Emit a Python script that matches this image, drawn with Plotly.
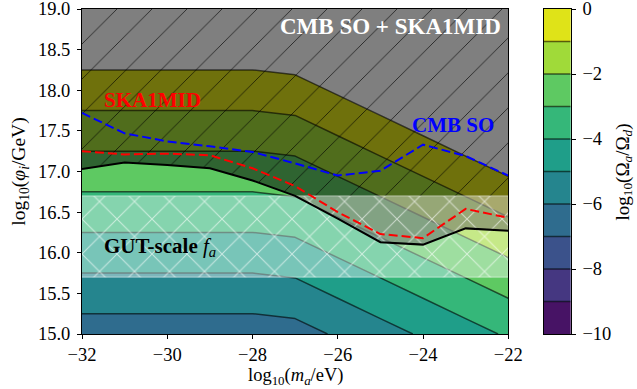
import plotly.graph_objects as go

# ---- data ---------------------------------------------------------------
# axion mass grid, log10(m_a / eV)
log_ma = [-32, -31, -30, -29, -28, -27, -26, -25, -24, -23, -22]
# initial field value, log10(phi_i / GeV), bottom and top of the range
log_phi = [15.0, 19.0]
# log10(Omega_a / Omega_d) along phi_i = 1e15 GeV and phi_i = 1e19 GeV
omega_bottom = [-6.5, -6.5, -6.5, -6.5, -6.5, -6.38, -5.88, -5.38, -4.88, -4.38, -3.88]
omega_top = [1.5, 1.5, 1.5, 1.5, 1.5, 1.62, 2.12, 2.62, 3.12, 3.62, 4.12]

# forecast bounds on log10(phi_i / GeV)
bound_combined = [17.03, 17.11, 17.08, 17.04, 16.89, 16.70, 16.42, 16.13, 16.10, 16.30, 16.27]
bound_ska = [17.25, 17.21, 17.22, 17.20, 17.04, 16.82, 16.50, 16.23, 16.18, 16.54, 16.43]
bound_cmb = [17.72, 17.47, 17.37, 17.31, 17.24, 17.10, 16.95, 17.01, 17.33, 17.19, 16.95]

# GUT-scale decay constant band
gut_band = [15.7, 16.7]

# contour levels and filled-band colours (viridis at band centres)
levels = list(range(-10, 1))
band_colors = ["#471365", "#453781", "#3b528b", "#2f6c8e", "#25858e",
               "#1f9e89", "#35b779", "#5ec962", "#a0da39", "#dfe318"]

x_ticks = [-32, -30, -28, -26, -24, -22]
y_ticks = [15.0, 15.5, 16.0, 16.5, 17.0, 17.5, 18.0, 18.5, 19.0]
cbar_ticks = [-10, -8, -6, -4, -2, 0]

# ---- styling --------------------------------------------------------------
FONT = "Liberation Serif"
W, H = 637, 389
ML, MR, MT, MB = 82, 0, 9, 55
PW, PH = W - ML - MR, H - MT - MB


def px(xp):
    return (xp - ML) / PW


def py(yp):
    return (H - MB - yp) / PH


n_lev = len(levels)
# contour fill: band between L and L+1 takes colour at (L + 0.5);
# positions span [start - 0.5, end + 0.5]; area above the top level stays white
fill_scale = [[0.0, band_colors[0]]]
for k, c in enumerate(band_colors):
    fill_scale.append([(k + 1) / n_lev, c])
fill_scale.append([1.0, "#ffffff"])

z = [omega_bottom, omega_top]
contour_def = dict(start=levels[0], end=levels[-1], size=1)
LINE_C = "rgba(0,0,0,0.6)"

fig = go.Figure()

fig.add_trace(go.Contour(
    x=log_ma, y=log_phi, z=z,
    autocontour=False,
    contours=dict(**contour_def, coloring="fill", showlines=False),
    colorscale=fill_scale, showscale=False,
    line=dict(width=0, smoothing=0),
    hoverinfo="skip",
))

# combined CMB SO + SKA1MID excluded region
top = log_phi[1]
fig.add_trace(go.Scatter(
    x=log_ma + [log_ma[-1], log_ma[0]],
    y=bound_combined + [top, top],
    fill="toself", mode="lines", line=dict(width=0),
    fillcolor="rgba(0,0,0,0.5)", hoverinfo="skip", showlegend=False,
))
hatch_floor = [max(b, gut_band[1]) for b in bound_combined]
fig.add_trace(go.Scatter(
    x=log_ma + [log_ma[-1], log_ma[0]],
    y=hatch_floor + [top, top],
    fill="toself", mode="lines", line=dict(width=0),
    fillcolor="rgba(0,0,0,0)",
    fillpattern=dict(shape="/", fgcolor="black", fgopacity=0.75,
                     size=24.75, solidity=0.035),
    hoverinfo="skip", showlegend=False,
))

# GUT-scale band
band_x = [log_ma[0], log_ma[-1], log_ma[-1], log_ma[0]]
band_y = [gut_band[0], gut_band[0], gut_band[1], gut_band[1]]
fig.add_trace(go.Scatter(
    x=band_x, y=band_y, fill="toself", mode="lines",
    line=dict(width=1, color="rgba(255,255,255,0.5)"),
    fillcolor="rgba(255,255,255,0.4)", hoverinfo="skip", showlegend=False,
))
fig.add_trace(go.Scatter(
    x=band_x, y=band_y, fill="toself", mode="lines", line=dict(width=0),
    fillcolor="rgba(0,0,0,0)",
    fillpattern=dict(shape="x", fgcolor="white", fgopacity=0.6,
                     size=24.75, solidity=0.08),
    hoverinfo="skip", showlegend=False,
))

# contour lines on top
fig.add_trace(go.Contour(
    x=log_ma, y=log_phi, z=z,
    autocontour=False,
    contours=dict(**contour_def, coloring="none", showlines=True),
    line=dict(color=LINE_C, width=1.5, smoothing=0),
    showscale=False, hoverinfo="skip",
))

fig.add_trace(go.Scatter(x=log_ma, y=bound_combined, mode="lines",
                         line=dict(color="black", width=2),
                         hoverinfo="skip", showlegend=False))
fig.add_trace(go.Scatter(x=log_ma, y=bound_ska, mode="lines",
                         line=dict(color="#ff0000", width=2, dash="9px,4px"),
                         hoverinfo="skip", showlegend=False))
fig.add_trace(go.Scatter(x=log_ma, y=bound_cmb, mode="lines",
                         line=dict(color="#0000ff", width=2, dash="9px,4px"),
                         hoverinfo="skip", showlegend=False))

# colour bar drawn as its own small axes
cbar_scale = []
n_band = len(band_colors)
for k, c in enumerate(band_colors):
    cbar_scale += [[k / n_band, c], [(k + 1) / n_band, c]]
fig.add_trace(go.Heatmap(
    z=[[(a + b) / 2] for a, b in zip(levels[:-1], levels[1:])],
    x=[0.5], y=[(a + b) / 2 for a, b in zip(levels[:-1], levels[1:])],
    zmin=levels[0], zmax=levels[-1], colorscale=cbar_scale,
    showscale=False, xaxis="x2", yaxis="y2", hoverinfo="skip",
))
lx, ly = [], []
for lev in levels[1:-1]:
    lx += [0, 1, None]
    ly += [lev, lev, None]
fig.add_trace(go.Scatter(x=lx, y=ly, mode="lines", xaxis="x2", yaxis="y2",
                         line=dict(color=LINE_C, width=1.5),
                         hoverinfo="skip", showlegend=False))

axis_common = dict(showline=True, linecolor="black", linewidth=1, mirror=True,
                   ticks="outside", ticklen=4, tickwidth=1, tickcolor="black",
                   showgrid=False, zeroline=False, automargin=False,
                   ticklabeloverflow="allow",
                   tickfont=dict(family=FONT, size=18.5, color="black"))

fig.update_layout(
    width=W, height=H,
    margin=dict(l=ML, r=MR, t=MT, b=MB, pad=0, autoexpand=False),
    paper_bgcolor="white", plot_bgcolor="white",
    showlegend=False,
    xaxis=dict(domain=[0, px(508.3)], range=[log_ma[0], log_ma[-1]],
               tickvals=x_ticks, ticklabelstandoff=0, **axis_common),
    yaxis=dict(domain=[0, 1], range=[log_phi[0], log_phi[1]],
               tickvals=y_ticks, tickformat=".1f", ticklabelstandoff=3,
               **axis_common),
    xaxis2=dict(domain=[px(544), px(570.7)], range=[0, 1], anchor="y2",
                showline=True, linecolor="black", mirror=True, linewidth=1,
                showticklabels=False, ticks="", showgrid=False, zeroline=False,
                automargin=False),
    yaxis2=dict(domain=[0, 1], range=[levels[0], levels[-1]], anchor="x2",
                side="right", tickvals=cbar_ticks, ticklabelstandoff=3,
                **axis_common),
)

ann = [
    dict(text="<b>CMB SO + SKA1MID</b>", x=px(503), y=py(27), xanchor="right",
         yanchor="middle", font=dict(family=FONT, size=23, color="white")),
    dict(text="<b>SKA1MID</b>", x=px(102), y=py(100.5), xanchor="left",
         yanchor="middle", font=dict(family=FONT, size=21, color="#ff0000")),
    dict(text="<b>CMB SO</b>", x=px(409.5), y=py(124.5), xanchor="left",
         yanchor="middle", font=dict(family=FONT, size=21, color="#0000ff")),
    dict(text="<b>GUT-scale</b> <i>f</i><sub><i>a</i></sub>", x=px(102.3), y=py(247),
         xanchor="left", yanchor="middle",
         font=dict(family=FONT, size=21, color="black")),
    dict(text="log<sub>10</sub>(<i>m<sub>a</sub></i>/eV)", x=px(295), y=py(376.5),
         xanchor="center", yanchor="middle",
         font=dict(family=FONT, size=18.5, color="black")),
    dict(text="log<sub>10</sub>(<i>φ<sub>i</sub></i>/GeV)", x=px(20), y=py(171.7),
         xanchor="center", yanchor="middle", textangle=-90,
         font=dict(family=FONT, size=19.5, color="black")),
    dict(text="log<sub>10</sub>(Ω<sub><i>a</i></sub>/Ω<sub><i>d</i></sub>)",
         x=px(623.5), y=py(172), xanchor="center", yanchor="middle", textangle=-90,
         font=dict(family=FONT, size=19, color="black")),
]
for a in ann:
    fig.add_annotation(xref="paper", yref="paper", showarrow=False, **a)

fig.write_html("out.html")
